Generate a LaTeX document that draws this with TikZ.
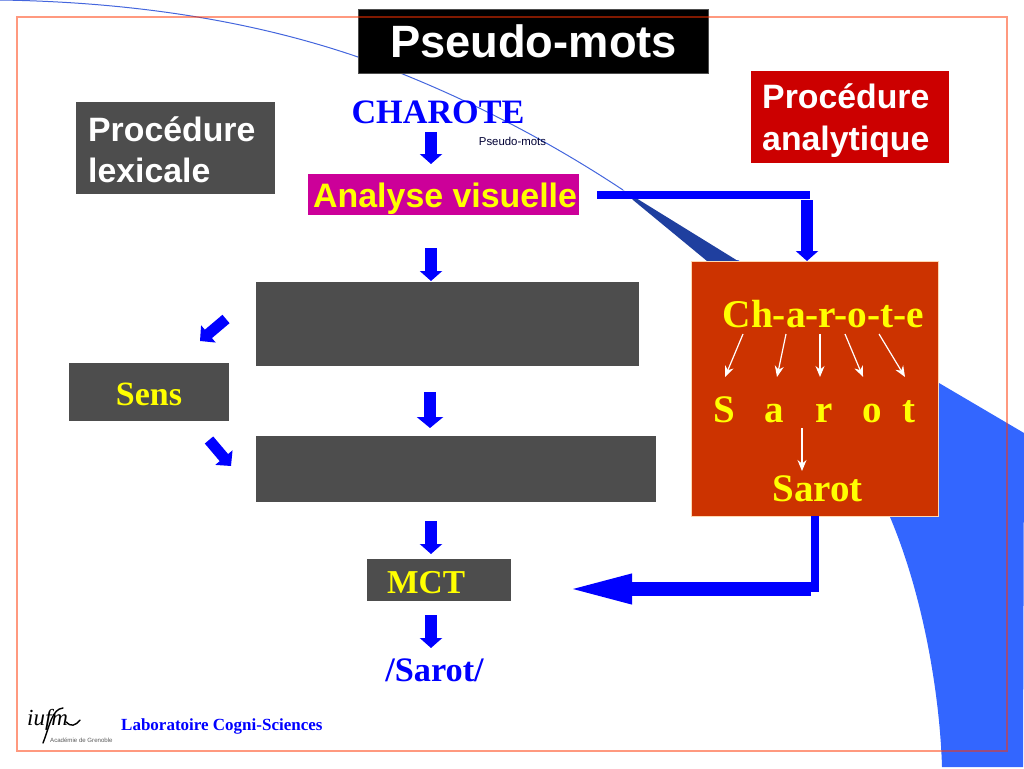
\documentclass[tikz,border=0pt]{standalone}
\usepackage{fontspec}
\setmainfont{Liberation Serif}
\setsansfont{Liberation Sans}
\usetikzlibrary{arrows.meta,calc}
\definecolor{swoosh}{HTML}{3366FF}
\definecolor{swooshline}{HTML}{4466DD}
\definecolor{wedge}{HTML}{1F3F9F}
\definecolor{ablue}{HTML}{0000FF}
\definecolor{grbox}{HTML}{4D4D4D}
\definecolor{redbox}{HTML}{CC0000}
\definecolor{magbox}{HTML}{CC0099}
\definecolor{orbox}{HTML}{CC3300}
\definecolor{framec}{HTML}{FF3300}
\definecolor{titlyel}{HTML}{FFFF00}
\newcommand{\fsz}[1]{\fontsize{#1}{#1}\selectfont}
\tikzset{
  sfbold/.style={font=\sffamily\bfseries,inner sep=0pt,anchor=base west},
  rmbold/.style={font=\rmfamily\bfseries,inner sep=0pt},
  blockarrow/.style={draw=ablue,line width=12pt,-{Triangle[length=10pt,width=22pt]}},
  flatbar/.style={draw=ablue,line width=8pt},
  thinwhite/.style={draw=white,line width=1.2pt,-{Stealth[length=11pt,width=9pt]}},
}
\begin{document}
\begin{tikzpicture}[x=1pt,y=-1pt]
\useasboundingbox (0,0) rectangle (1024,768);
% swoosh background
\fill[swoosh] (738,260) -- (939,383) -- (1024,433) -- (1023,767) -- (942,767)
  .. controls (940,700) and (925,600) .. (890,517) -- (780,360) -- (707,260) -- cycle;
\fill[wedge] (623,190) -- (738,261) -- (707,261) -- (633,200) -- cycle;
\draw[swooshline,line width=1pt] (0,0) .. controls (130,2) and (250,20) .. (358,57)
  .. controls (450,90) and (540,135) .. (623,190);
% panels
\path[fill=black,draw=grbox,line width=.6pt] (358,9) rectangle (708,73);
\coordinate (titlebase) at (533.5,58);
\node[font=\sffamily\bfseries,text=white,inner sep=0pt,anchor=base] (title) at (titlebase) {\fsz{45.3}Pseudo-mots};

\fill[redbox] (751,71) rectangle (949,163);
\node[sfbold,text=white] (analytA) at (762,108) {\fsz{33.8}Procédure};
\node[sfbold,text=white] (analytB) at (762,150) {\fsz{33.8}analytique};

\fill[grbox] (76,102) rectangle (275,194);
\node[sfbold,text=white] (lexA) at (88,141) {\fsz{33.8}Procédure};
\node[sfbold,text=white] (lexB) at (88,182) {\fsz{33.8}lexicale};

\node[rmbold,text=ablue,anchor=base] (charote) at (438,123) {\fsz{34.2}CHAROTE};
\node[font=\sffamily,text=black!80!blue,inner sep=0pt,anchor=base] (smallpm) at (512.5,145) {\fsz{11.4}Pseudo-mots};

\node[fill=magbox,minimum width=271pt,minimum height=41pt,inner sep=0pt,outer sep=0pt] (analyse) at (443.5,194.5) {};
\node[sfbold,text=titlyel] (analysetxt) at (313,207) {\fsz{33.9}Analyse visuelle};

\node[fill=grbox,minimum width=383pt,minimum height=84pt,inner sep=0pt,outer sep=0pt] (lexbox) at (447.5,324) {};
\node[fill=grbox,minimum width=400pt,minimum height=66pt,inner sep=0pt,outer sep=0pt] (phonbox) at (456,469) {};
\node[fill=grbox,minimum width=160pt,minimum height=58pt,inner sep=0pt,outer sep=0pt] (sens) at (149,392) {};
\node[rmbold,text=titlyel,anchor=base] (senstxt) at (149,405) {\fsz{34}Sens};
\node[fill=grbox,minimum width=144pt,minimum height=42pt,inner sep=0pt,outer sep=0pt] (mct) at (439,580) {};
\node[rmbold,text=titlyel,anchor=base west] (mcttxt) at (387,593) {\fsz{33.4}MCT};
\node[rmbold,text=ablue,anchor=base] (sarotfin) at (434.5,681) {\fsz{34.3}/Sarot/};

% analytic box
\node[fill=orbox,draw=orange!30!white,line width=.6pt,minimum width=247pt,minimum height=255pt,inner sep=0pt,outer sep=0pt] (rule) at (814.5,388.5) {};
\node[rmbold,text=titlyel,anchor=base] (graph) at (823.5,327) {\fsz{39.3}Ch-a-r-o-t-e};
\node[rmbold,text=titlyel,anchor=base west] (phon) at (713,422) {\fsz{39}S\ \hspace{20pt}a\ \hspace{22pt}r\ \hspace{20pt}o\ \hspace{10pt}t};
\node[rmbold,text=titlyel,anchor=base] (sarot) at (817.5,501) {\fsz{39}Sarot};

% thin arrows inside the box
\coordinate (g1) at (743,334); \coordinate (p1) at (725,377);
\coordinate (g2) at (786,334); \coordinate (p2) at (777,377);
\coordinate (g3) at (820,334); \coordinate (p3) at (820,377);
\coordinate (g4) at (845,334); \coordinate (p4) at (863,377);
\coordinate (g5) at (879,334); \coordinate (p5) at (905,377);
\coordinate (s1) at (802,428); \coordinate (s2) at (802,471);
\draw[thinwhite] (g1) -- (p1);
\draw[thinwhite] (g2) -- (p2);
\draw[thinwhite] (g3) -- (p3);
\draw[thinwhite] (g4) -- (p4);
\draw[thinwhite] (g5) -- (p5);
\draw[thinwhite] (s1) -- (s2);

% block arrows of the main column
\coordinate (a1) at (431,132); \coordinate (a2) at (431,164);
\coordinate (b1) at (431,248); \coordinate (b2) at (431,281);
\coordinate (c1) at (430,392); \coordinate (c2) at (430,428);
\coordinate (d1) at (431,521); \coordinate (d2) at (431,554);
\coordinate (e1) at (431,615); \coordinate (e2) at (431,648);
\draw[blockarrow] (a1) -- (a2);
\draw[blockarrow] (b1) -- (b2);
\draw[blockarrow,-{Triangle[length=11pt,width=26pt]}] (c1) -- (c2);
\draw[blockarrow] (d1) -- (d2);
\draw[blockarrow] (e1) -- (e2);
% diagonal arrows
\coordinate (f1) at (226,319); \coordinate (f2) at (200,341);
\coordinate (h1) at (209,440); \coordinate (h2) at (231,466);
\draw[blockarrow,line width=11pt,-{Triangle[length=11pt,width=22pt]}] (f1) -- (f2);
\draw[blockarrow,line width=11pt,-{Triangle[length=11pt,width=22pt]}] (h1) -- (h2);

% analytic route
\coordinate (elbowA) at (810,194.5);
\coordinate (elbowB) at (807,200);
\draw[flatbar,shorten <=18pt] (analyse.east) -- (elbowA);
\draw[blockarrow] (elbowB) -- (elbowB |- rule.north);
\coordinate (barx) at (815,592);
\draw[flatbar] (rule.south -| barx) -- (barx);
\coordinate (elbowC) at (811,589);
\draw[draw=ablue,line width=14pt,-{Triangle[length=70pt,width=26pt]},shorten >=51pt] (elbowC) -- (elbowC -| mct.east);

% footer
\node[font=\rmfamily\bfseries,text=ablue,inner sep=0pt,anchor=base west] (labo) at (121,730) {\fsz{17}Laboratoire Cogni-Sciences};
\node[font=\rmfamily\itshape,text=black,inner sep=0pt,anchor=base west] (iufm) at (27,725) {\fsz{23}iufm};
\coordinate (ftop) at (63,708);
\coordinate (fbot) at (43,743);
\coordinate (mend) at (80,720);
\draw[black,line width=1.4pt,line cap=round] (ftop) .. controls (52,709) and (50,725) .. (fbot);
\draw[black,line width=1.4pt,line cap=round] (iufm.base east) ++(-2,-3) .. controls (71,727) and (75,726) .. (mend);
\node[font=\sffamily,text=black!65,inner sep=0pt,anchor=base west] (acad) at (50,742) {\fsz{6.1}Académie de Grenoble};

% frame drawn over everything
\draw[framec,opacity=.5,line width=1.2pt] (17,17) rectangle (1007,751);
\end{tikzpicture}
\end{document}
